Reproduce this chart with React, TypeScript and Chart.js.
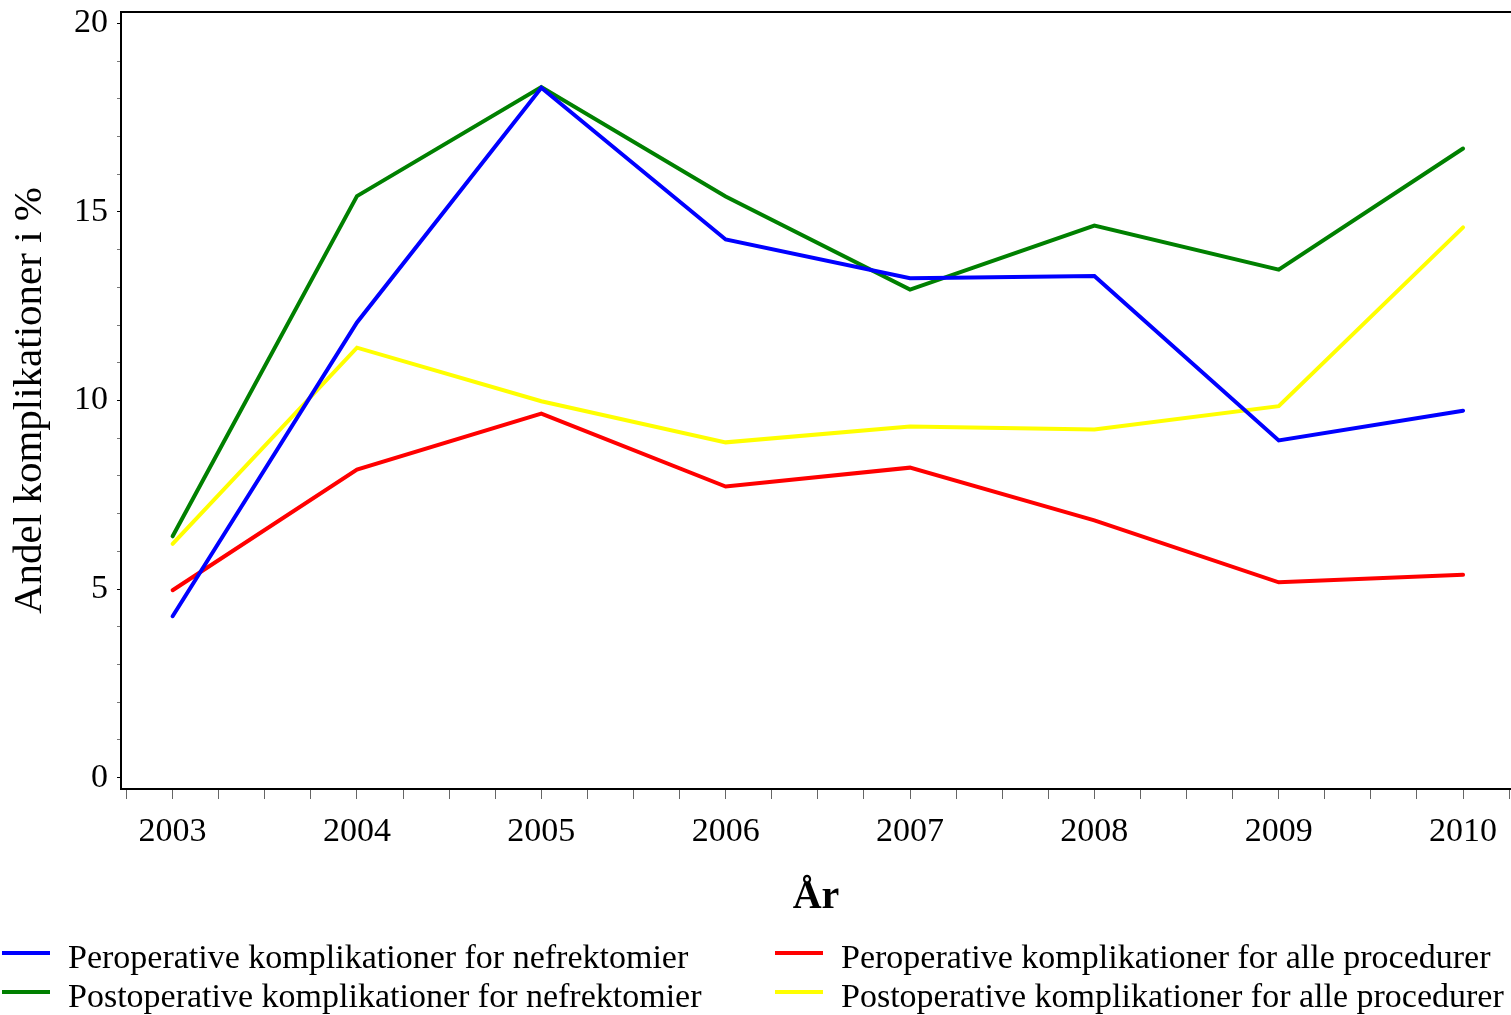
import React, { useEffect, useRef } from "react";
import { Chart, registerables } from "chart.js";

Chart.register(...registerables);

const years = [2003, 2004, 2005, 2006, 2007, 2008, 2009, 2010];
const perNefrektomier = [4.28, 12.07, 18.29, 14.27, 13.24, 13.3, 8.94, 9.73];
const postNefrektomier = [6.4, 15.42, 18.31, 15.41, 12.94, 14.64, 13.47, 16.68];
const perAlle = [4.97, 8.17, 9.65, 7.72, 8.22, 6.82, 5.18, 5.38];
const postAlle = [6.2, 11.4, 9.98, 8.89, 9.31, 9.23, 9.85, 14.59];

const seriesLabels = [
  "Peroperative komplikationer for nefrektomier",
  "Postoperative komplikationer for nefrektomier",
  "Peroperative komplikationer for alle procedurer",
  "Postoperative komplikationer for alle procedurer",
];
const seriesColors = ["#0000FF", "#008000", "#FF0000", "#FFFF00"];

const xTitle = "År";
const yTitle = "Andel komplikationer i %";

const FONT = "'Liberation Serif', 'Times New Roman', serif";

const isWhole = (v: number) => Math.abs(v - Math.round(v)) < 1e-6;

const topBorderPlugin = {
  id: "topBorder",
  afterDraw(chart: any) {
    const { ctx, chartArea } = chart;
    ctx.save();
    ctx.strokeStyle = "#000";
    ctx.lineWidth = 2;
    ctx.beginPath();
    ctx.moveTo(chartArea.left - 1, chartArea.top);
    ctx.lineTo(chart.width, chartArea.top);
    ctx.stroke();
    ctx.restore();
  },
};

const legendPlugin = {
  id: "gridLegend",
  afterDraw(chart: any) {
    const { ctx } = chart;
    const colX = [2, 775];
    const rowY = [959, 998];
    ctx.save();
    ctx.font = `34px ${FONT}`;
    ctx.textBaseline = "middle";
    ctx.textAlign = "left";
    chart.data.datasets.forEach((ds: any, i: number) => {
      const col = Math.floor(i / 2);
      const row = i % 2;
      const x = colX[col];
      const y = rowY[row];
      ctx.strokeStyle = ds.borderColor;
      ctx.lineWidth = 4;
      ctx.beginPath();
      ctx.moveTo(x, y - 6);
      ctx.lineTo(x + 48, y - 6);
      ctx.stroke();
      ctx.fillStyle = "#000";
      ctx.fillText(ds.label, x + 66, y);
    });
    ctx.restore();
  },
};

export default function App() {
  const ref = useRef<HTMLCanvasElement | null>(null);

  useEffect(() => {
    document.body.style.margin = "0";
    const canvas = ref.current;
    if (!canvas) return;
    const seriesData = [perNefrektomier, postNefrektomier, perAlle, postAlle];
    const chart = new Chart(canvas, {
      type: "line",
      data: {
        datasets: seriesData.map((vals, i) => ({
          label: seriesLabels[i],
          data: years.map((y, j) => ({ x: y, y: vals[j] })),
          borderColor: seriesColors[i],
          backgroundColor: seriesColors[i],
          borderWidth: 4,
          pointRadius: 0,
          pointHoverRadius: 0,
          tension: 0,
          borderCapStyle: "round",
          borderJoinStyle: "miter",
          fill: false,
        })),
      },
      options: {
        responsive: false,
        animation: false,
        events: [],
        layout: { padding: { top: 12, right: 0, bottom: 93, left: 0 } },
        plugins: {
          legend: { display: false },
          tooltip: { enabled: false },
        },
        scales: {
          x: {
            type: "linear",
            min: 2002.72,
            max: 2010.26,
            afterFit: (s: any) => {
              s.height = 133;
              s.paddingLeft = 0;
              s.paddingRight = 0;
            },
            ticks: {
              stepSize: 0.25,
              includeBounds: false,
              autoSkip: false,
              maxRotation: 0,
              minRotation: 0,
              padding: 13,
              color: "#000",
              font: { family: FONT, size: 34 },
              callback: (v: any) => (isWhole(Number(v)) ? String(Math.round(Number(v))) : ""),
            },
            grid: {
              drawOnChartArea: false,
              drawTicks: true,
              tickLength: 10,
              tickColor: "#666",
              tickWidth: 1,
            },
            border: { display: true, color: "#000", width: 2 },
            title: {
              display: true,
              text: xTitle,
              color: "#000",
              font: { family: FONT, size: 40, weight: "bold" },
              padding: { top: 0, bottom: 0 },
            },
          },
          y: {
            type: "linear",
            min: -0.3,
            max: 20.3,
            afterFit: (s: any) => {
              s.width = 121;
              s.paddingTop = 0;
              s.paddingBottom = 0;
            },
            ticks: {
              stepSize: 1,
              includeBounds: false,
              autoSkip: false,
              padding: 9,
              color: "#000",
              font: { family: FONT, size: 34 },
              callback: (v: any) => {
                const n = Number(v);
                return isWhole(n) && Math.round(n) % 5 === 0 ? String(Math.round(n)) : "";
              },
            },
            grid: {
              drawOnChartArea: false,
              drawTicks: true,
              tickLength: 4,
              tickColor: (c: any) => {
                const n = Number(c.tick && c.tick.value);
                return isWhole(n) && Math.round(n) % 5 === 0 ? "#000" : "#777";
              },
              tickWidth: 1,
            },
            border: { display: true, color: "#000", width: 2 },
            title: {
              display: true,
              text: yTitle,
              color: "#000",
              font: { family: FONT, size: 41 },
              padding: { top: 6, bottom: 0 },
            },
          },
        },
      },
      plugins: [topBorderPlugin, legendPlugin],
    } as any);
    return () => chart.destroy();
  }, []);

  return (
    <div style={{ width: 1511, height: 1015, overflow: "hidden", background: "#fff" }}>
      <canvas ref={ref} width={1511} height={1015} style={{ display: "block" }} />
    </div>
  );
}
